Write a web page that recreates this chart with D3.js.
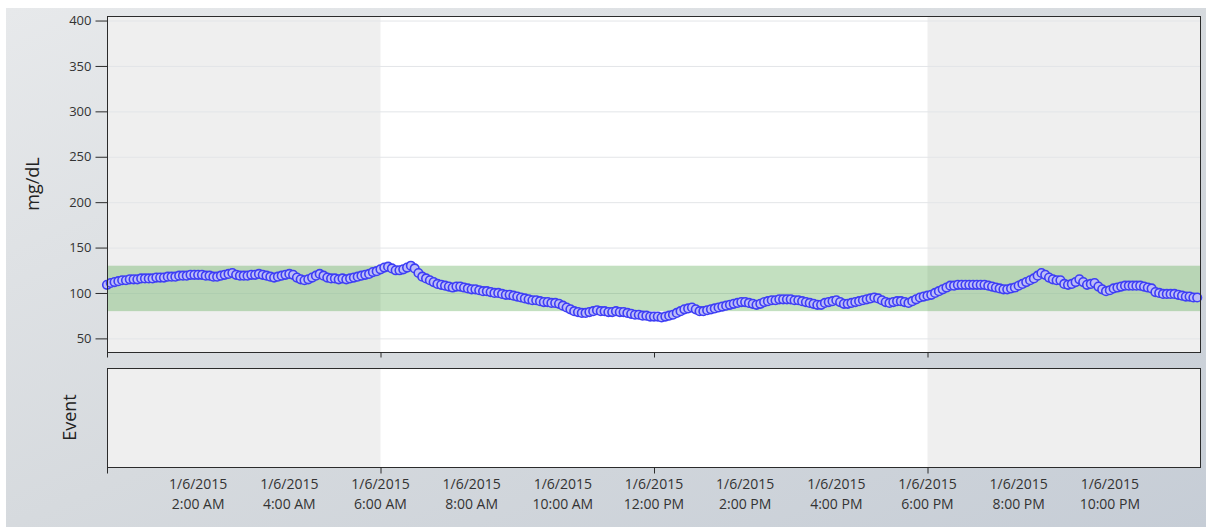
<!DOCTYPE html>
<html>
<head>
<meta charset="utf-8">
<script src="https://cdn.jsdelivr.net/npm/d3@7"></script>
<style>
  body { margin: 0; background: #fff; }
  svg { display: block; font-family: "Open Sans", "Noto Sans", sans-serif; }
</style>
</head>
<body>
<div id="chart"></div>
<script>
// Lectures de glucosa cada 5 minuts, 1/6/2015 00:00 - 23:55 (una fila per hora)
const glucose = [
  109, 111, 112, 113, 114, 114, 115, 115, 115, 116, 116, 116,
  116, 117, 117, 117, 118, 118, 118, 119, 119, 119, 120, 120,
  120, 120, 119, 119, 118, 118, 119, 120, 121, 122, 120, 119,
  119, 119, 120, 120, 121, 120, 119, 118, 117, 118, 119, 120,
  121, 120, 117, 115, 114, 115, 117, 119, 121, 119, 117, 116,
  116, 115, 116, 115, 116, 117, 118, 119, 120, 121, 123, 124,
  126, 128, 129, 127, 125, 125, 126, 128, 130, 127, 122, 118,
  116, 114, 112, 110, 109, 108, 107, 106, 107, 107, 106, 105,
  104, 104, 103, 102, 102, 101, 100, 100, 99, 98, 98, 97,
  96, 95, 94, 93, 92, 92, 91, 90, 90, 89, 89, 88,
  86, 84, 82, 80, 79, 78, 78, 79, 80, 81, 80, 80,
  79, 79, 80, 79, 79, 78, 77, 76, 76, 75, 75, 74,
  74, 74, 73, 74, 75, 76, 78, 80, 82, 83, 84, 82,
  80, 80, 81, 82, 83, 84, 85, 86, 87, 88, 89, 90,
  90, 89, 88, 87, 88, 90, 91, 92, 92, 93, 93, 93,
  93, 92, 92, 91, 90, 89, 88, 87, 87, 89, 90, 91,
  92, 90, 88, 88, 89, 90, 91, 92, 93, 94, 95, 94,
  92, 90, 89, 90, 91, 91, 90, 89, 91, 93, 95, 96,
  97, 98, 100, 102, 104, 106, 108, 108, 109, 109, 109, 109,
  109, 109, 109, 109, 108, 107, 106, 105, 104, 104, 105, 106,
  108, 110, 112, 114, 116, 119, 122, 120, 117, 115, 114, 114,
  110, 109, 110, 112, 115, 112, 109, 110, 111, 107, 104, 102,
  103, 105, 106, 107, 108, 108, 108, 108, 108, 107, 106, 105,
  101, 100, 99, 99, 99, 99, 98, 97, 96, 96, 95, 95
];
const startTime = new Date(2015, 0, 6, 0, 0);
const endTime = new Date(2015, 0, 7, 0, 0);
const intervalMinutes = 5;
const targetRange = [80, 130];          // franja objectiu (verda)
const nightBands = [[0, 6], [18, 24]];  // hores amb fons gris
const yTicks = [50, 100, 150, 200, 250, 300, 350, 400];
const tickHours = [0, 6, 12, 18];       // marques de l'eix
const labelHours = [2, 4, 6, 8, 10, 12, 14, 16, 18, 20, 22];

const W = 1206, H = 527;
const plot = { left: 107, right: 1201, top: 16, bottom: 352 };
const evPanel = { top: 368, bottom: 467 };

const svg = d3.select("#chart").append("svg")
    .attr("width", W)
    .attr("height", H);

// Fons degradat
const grad = svg.append("defs").append("linearGradient")
    .attr("id", "bg-grad")
    .attr("x1", "0%").attr("y1", "0%").attr("x2", "100%").attr("y2", "100%");
grad.append("stop").attr("offset", "0%").attr("stop-color", "#e7e9eb");
grad.append("stop").attr("offset", "50%").attr("stop-color", "#d6dade");
grad.append("stop").attr("offset", "100%").attr("stop-color", "#c6cdd6");
svg.append("rect").attr("x", 6).attr("y", 8).attr("width", W - 6).attr("height", H - 8)
    .attr("fill", "url(#bg-grad)");

const hourTime = h => d3.timeMinute.offset(startTime, h * 60);

const x = d3.scaleTime()
    .domain([startTime, endTime])
    .range([plot.left, plot.right]);

const y = d3.scaleLinear()
    .domain([35, 405])
    .range([plot.bottom, plot.top]);

const data = glucose.map((v, i) => ({ t: d3.timeMinute.offset(startTime, i * intervalMinutes), v }));

// Dibuixa el fons d'un panell (blanc + franges nocturnes)
function drawPanelBg(top, bottom) {
    svg.append("rect")
        .attr("x", plot.left).attr("y", top)
        .attr("width", plot.right - plot.left).attr("height", bottom - top)
        .attr("fill", "#ffffff");
    svg.selectAll(null)
        .data(nightBands)
        .join("rect")
        .attr("x", d => x(hourTime(d[0])))
        .attr("y", top)
        .attr("width", d => x(hourTime(d[1])) - x(hourTime(d[0])))
        .attr("height", bottom - top)
        .attr("fill", "#efefef");
}

// ---- Panell principal ----
drawPanelBg(plot.top, plot.bottom);

// Línies de graella
svg.append("g")
    .selectAll("line")
    .data(yTicks)
    .join("line")
    .attr("x1", plot.left).attr("x2", plot.right)
    .attr("y1", d => y(d) + 0.5).attr("y2", d => y(d) + 0.5)
    .attr("stroke", "#e3e5e8")
    .attr("stroke-width", 1);

// Franja objectiu
svg.append("rect")
    .attr("x", plot.left)
    .attr("y", y(targetRange[1]))
    .attr("width", plot.right - plot.left)
    .attr("height", y(targetRange[0]) - y(targetRange[1]))
    .attr("fill", "rgb(55,152,45)")
    .attr("fill-opacity", 0.3);

// Punts de glucosa
svg.append("g")
    .selectAll("circle")
    .data(data)
    .join("circle")
    .attr("cx", d => x(d.t))
    .attr("cy", d => y(d.v))
    .attr("r", 4.3)
    .attr("fill", "#bdbdf7")
    .attr("stroke", "#3e3ef5")
    .attr("stroke-width", 1.6);

// Marc
svg.append("rect")
    .attr("x", plot.left + 0.5).attr("y", plot.top + 0.5)
    .attr("width", plot.right - plot.left - 1).attr("height", plot.bottom - plot.top)
    .attr("fill", "none")
    .attr("stroke", "#2b2b2b")
    .attr("stroke-width", 1);

// Eix Y
const yAxis = svg.append("g")
    .attr("transform", `translate(${plot.left + 0.5},0)`)
    .call(d3.axisLeft(y).tickValues(yTicks).tickSize(12).tickPadding(4));
yAxis.select(".domain").remove();
yAxis.selectAll("line").attr("stroke", "#2b2b2b");
yAxis.selectAll("text")
    .attr("fill", "#333")
    .style("font-size", "13px")
    .style("font-family", "\"Open Sans\", \"Noto Sans\", sans-serif");

// Marques de l'eix X del panell principal
svg.append("g")
    .attr("transform", `translate(0,${plot.bottom + 0.5})`)
    .call(d3.axisBottom(x).tickValues(tickHours.map(hourTime)).tickSize(5).tickFormat(""))
    .call(g => g.select(".domain").remove())
    .call(g => g.selectAll("line").attr("stroke", "#2b2b2b"));

svg.append("text")
    .attr("transform", `translate(39,${(plot.top + plot.bottom) / 2}) rotate(-90)`)
    .attr("text-anchor", "middle")
    .attr("fill", "#222")
    .style("font-size", "18px")
    .text("mg/dL");

// ---- Panell d'esdeveniments ----
drawPanelBg(evPanel.top, evPanel.bottom);

svg.append("rect")
    .attr("x", plot.left + 0.5).attr("y", evPanel.top + 0.5)
    .attr("width", plot.right - plot.left - 1).attr("height", evPanel.bottom - evPanel.top)
    .attr("fill", "none")
    .attr("stroke", "#2b2b2b")
    .attr("stroke-width", 1);

svg.append("g")
    .attr("transform", `translate(0,${evPanel.bottom + 0.5})`)
    .call(d3.axisBottom(x).tickValues(tickHours.map(hourTime)).tickSize(6).tickFormat(""))
    .call(g => g.select(".domain").remove())
    .call(g => g.selectAll("line").attr("stroke", "#2b2b2b"));

// Etiquetes de temps (dues línies)
const fmtDate = d3.timeFormat("%-m/%-d/%Y");
const fmtTime = d3.timeFormat("%-I:%M %p");
const labels = svg.append("g")
    .selectAll("text")
    .data(labelHours.map(hourTime))
    .join("text")
    .attr("x", d => x(d))
    .attr("text-anchor", "middle")
    .attr("fill", "#333")
    .style("font-size", "14px");
labels.append("tspan").attr("x", d => x(d)).attr("y", 489).text(d => fmtDate(d));
labels.append("tspan").attr("x", d => x(d)).attr("y", 509).text(d => fmtTime(d));

svg.append("text")
    .attr("transform", `translate(76,${(evPanel.top + evPanel.bottom) / 2}) rotate(-90)`)
    .attr("text-anchor", "middle")
    .attr("fill", "#222")
    .style("font-size", "18px")
    .text("Event");
</script>
</body>
</html>
